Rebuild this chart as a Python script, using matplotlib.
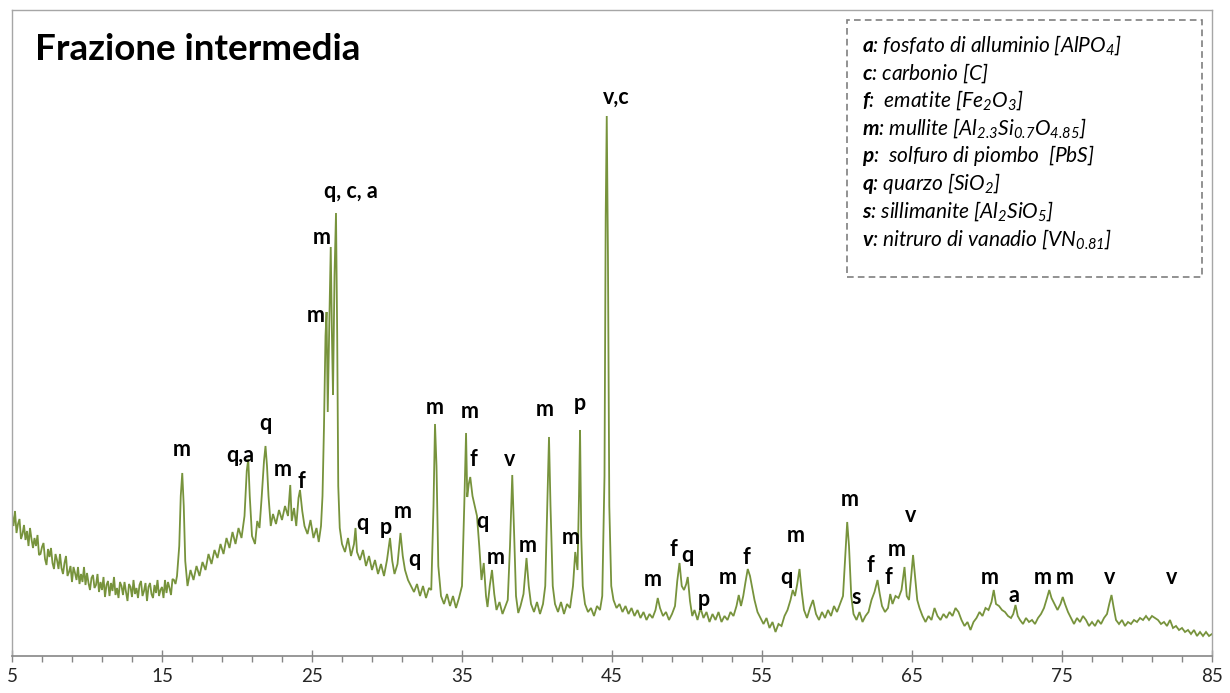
import matplotlib
matplotlib.use("Agg")
import matplotlib.pyplot as plt
from matplotlib.patches import Rectangle

plt.rcParams['font.family'] = ['Lato', 'DejaVu Sans']
plt.rcParams['mathtext.fontset'] = 'custom'
plt.rcParams['mathtext.rm'] = 'Lato:style=italic'
plt.rcParams['mathtext.it'] = 'Lato:style=italic'
plt.rcParams['mathtext.bf'] = 'Lato:style=italic:weight=bold'
plt.rcParams['mathtext.default'] = 'it'

# ---- data: diffraction pattern (2-theta in degrees, intensity in arbitrary units)
two_theta = [
    5.0, 5.1, 5.2, 5.3, 5.4, 5.5, 5.6, 5.7, 5.8, 5.9,
    6.0, 6.1, 6.2, 6.3, 6.4, 6.5, 6.6, 6.7, 6.8, 6.9,
    7.0, 7.1, 7.2, 7.3, 7.4, 7.5, 7.6, 7.7, 7.8, 7.9,
    8.0, 8.1, 8.2, 8.3, 8.4, 8.5, 8.6, 8.7, 8.8, 8.9,
    9.0, 9.1, 9.2, 9.3, 9.4, 9.5, 9.6, 9.7, 9.8, 9.9,
    10.0, 10.1, 10.2, 10.3, 10.4, 10.5, 10.6, 10.7, 10.8, 10.9,
    11.0, 11.1, 11.2, 11.3, 11.4, 11.5, 11.6, 11.7, 11.8, 11.9,
    12.0, 12.1, 12.2, 12.3, 12.4, 12.5, 12.6, 12.7, 12.8, 12.9,
    13.0, 13.1, 13.2, 13.3, 13.4, 13.5, 13.6, 13.7, 13.8, 13.9,
    14.0, 14.1, 14.2, 14.3, 14.4, 14.5, 14.6, 14.7, 14.8, 14.9,
    15.0, 15.1, 15.2, 15.3, 15.4, 15.5, 15.6, 15.7, 15.8, 15.9,
    16.0, 16.15, 16.25, 16.35, 16.45, 16.55, 16.7, 16.9, 17.1, 17.3, 17.5, 17.7, 17.9, 18.1, 18.3, 18.5,
    18.7, 18.9, 19.1, 19.3, 19.5, 19.7, 19.9, 20.1, 20.3, 20.5, 20.65, 20.75, 20.85, 21.0, 21.2, 21.35,
    21.5, 21.65, 21.8, 21.9, 22.0, 22.1, 22.25, 22.4, 22.6, 22.8, 23.0, 23.2, 23.4, 23.55, 23.65, 23.8,
    23.95, 24.1, 24.2, 24.35, 24.5, 24.7, 24.9, 25.1, 25.3, 25.45, 25.6, 25.7, 25.8, 25.9, 25.97, 26.05,
    26.15, 26.25, 26.33, 26.4, 26.5, 26.6, 26.68, 26.75, 26.85, 27.0, 27.2, 27.4, 27.6, 27.8, 27.9, 28.0,
    28.2, 28.4, 28.6, 28.8, 29.0, 29.2, 29.4, 29.6, 29.8, 30.0, 30.2, 30.35, 30.5, 30.7, 30.9, 31.05,
    31.2, 31.4, 31.6, 31.8, 32.0, 32.2, 32.4, 32.6, 32.8, 32.95, 33.1, 33.2, 33.3, 33.42, 33.6, 33.8,
    34.0, 34.2, 34.4, 34.6, 34.8, 35.0, 35.15, 35.27, 35.35, 35.45, 35.55, 35.7, 35.85, 36.0, 36.15,
    36.3, 36.45, 36.6, 36.7, 36.85, 37.0, 37.15, 37.3, 37.5, 37.7, 37.9, 38.05, 38.2, 38.35, 38.48,
    38.6, 38.75, 38.9, 39.1, 39.3, 39.45, 39.6, 39.8, 40.0, 40.2, 40.4, 40.55, 40.7, 40.8, 40.9, 41.05,
    41.2, 41.4, 41.6, 41.8, 42.0, 42.2, 42.4, 42.55, 42.7, 42.8, 42.87, 42.95, 43.05, 43.2, 43.4, 43.6,
    43.8, 44.0, 44.2, 44.35, 44.5, 44.58, 44.65, 44.73, 44.82, 44.95, 45.1, 45.3, 45.5, 45.7, 45.9,
    46.1, 46.3, 46.5, 46.7, 46.9, 47.1, 47.3, 47.5, 47.7, 47.9, 48.05, 48.2, 48.4, 48.6, 48.8, 49.0,
    49.2, 49.35, 49.5, 49.65, 49.8, 49.95, 50.05, 50.2, 50.35, 50.5, 50.7, 50.9, 51.1, 51.3, 51.5, 51.7,
    51.9, 52.1, 52.3, 52.5, 52.7, 52.9, 53.1, 53.3, 53.45, 53.6, 53.75, 53.9, 54.05, 54.2, 54.35, 54.5,
    54.7, 54.9, 55.1, 55.3, 55.5, 55.7, 55.9, 56.1, 56.3, 56.5, 56.7, 56.9, 57.05, 57.2, 57.35, 57.5,
    57.65, 57.8, 58.0, 58.2, 58.4, 58.6, 58.8, 59.0, 59.2, 59.4, 59.6, 59.8, 60.0, 60.2, 60.4, 60.55,
    60.68, 60.8, 60.95, 61.1, 61.3, 61.5, 61.7, 61.9, 62.1, 62.3, 62.5, 62.7, 62.85, 63.0, 63.2, 63.4,
    63.55, 63.7, 63.9, 64.1, 64.3, 64.5, 64.65, 64.8, 64.95, 65.07, 65.2, 65.35, 65.5, 65.7, 65.9, 66.1,
    66.3, 66.5, 66.7, 66.9, 67.1, 67.3, 67.5, 67.7, 67.9, 68.1, 68.3, 68.5, 68.7, 68.9, 69.1, 69.3, 69.5,
    69.7, 69.9, 70.1, 70.3, 70.45, 70.6, 70.8, 71.0, 71.2, 71.4, 71.6, 71.75, 71.9, 72.05, 72.2, 72.4,
    72.6, 72.8, 73.0, 73.2, 73.4, 73.6, 73.8, 74.0, 74.15, 74.3, 74.5, 74.7, 74.9, 75.05, 75.2, 75.4,
    75.6, 75.8, 76.0, 76.2, 76.4, 76.6, 76.8, 77.0, 77.2, 77.4, 77.6, 77.8, 78.0, 78.15, 78.3, 78.45,
    78.6, 78.8, 79.0, 79.2, 79.4, 79.6, 79.8, 80.0, 80.2, 80.4, 80.6, 80.8, 81.0, 81.2, 81.4, 81.6, 81.8,
    82.0, 82.2, 82.4, 82.6, 82.8, 83.0, 83.2, 83.4, 83.6, 83.8, 84.0, 84.2, 84.4, 84.6, 84.8, 85.0,
]
intensity = [
    142, 130, 145, 123, 132, 137, 117, 122, 131, 116,
    125, 110, 128, 117, 108, 118, 110, 121, 101, 102,
    109, 113, 97, 91, 107, 99, 108, 93, 87, 102,
    96, 87, 102, 88, 82, 93, 100, 80, 84, 90,
    74, 89, 83, 76, 89, 72, 82, 74, 89, 71,
    83, 73, 66, 78, 81, 68, 71, 82, 64, 74,
    66, 79, 59, 71, 75, 60, 73, 65, 79, 61,
    68, 58, 74, 70, 61, 74, 64, 55, 72, 69,
    59, 76, 62, 68, 58, 71, 75, 60, 65, 73,
    55, 69, 73, 62, 58, 71, 63, 76, 60, 66,
    69, 58, 76, 63, 74, 68, 61, 77, 76, 72,
    80, 110, 160, 183, 150, 95, 70, 86, 76, 90, 80, 94, 86, 102, 92, 106,
    98, 112, 102, 118, 108, 124, 112, 128, 118, 140, 185, 197, 160, 120, 112, 135,
    128, 160, 195, 210, 190, 160, 130, 142, 132, 146, 136, 150, 140, 171, 135, 148,
    130, 158, 166, 145, 130, 122, 136, 118, 128, 114, 130, 160, 230, 320, 344, 244,
    330, 409, 320, 261, 380, 443, 320, 170, 128, 112, 104, 118, 100, 112, 128, 104,
    96, 106, 90, 100, 86, 96, 82, 92, 80, 96, 118, 95, 82, 92, 123, 100,
    86, 76, 70, 64, 72, 60, 70, 58, 68, 66, 150, 232, 190, 90, 60, 52,
    62, 50, 60, 48, 58, 70, 150, 223, 159, 172, 179, 160, 150, 140, 110,
    76, 93, 60, 49, 70, 86, 62, 46, 54, 42, 50, 56, 110, 181, 120,
    60, 43, 50, 62, 98, 70, 52, 44, 54, 42, 52, 70, 160, 219, 150, 70,
    52, 44, 54, 42, 52, 48, 70, 104, 86, 160, 226, 120, 70, 52, 44, 48,
    40, 50, 46, 60, 180, 440, 540, 400, 150, 70, 56, 48, 52, 44, 50,
    42, 48, 40, 46, 38, 44, 36, 42, 38, 46, 58, 48, 40, 44, 36, 42,
    50, 75, 93, 70, 66, 72, 79, 55, 40, 46, 36, 48, 38, 44, 34, 42,
    36, 44, 34, 40, 36, 44, 40, 50, 61, 50, 60, 74, 87, 80, 68, 56,
    44, 38, 32, 38, 28, 34, 24, 32, 30, 40, 46, 56, 66, 60, 72, 87,
    64, 46, 38, 48, 56, 42, 36, 44, 38, 46, 40, 50, 44, 52, 60, 100,
    134, 110, 60, 42, 36, 44, 34, 40, 44, 56, 64, 76, 62, 50, 44, 48,
    62, 52, 60, 58, 66, 89, 60, 56, 80, 101, 80, 56, 48, 40, 34, 40,
    36, 48, 40, 36, 42, 38, 44, 40, 48, 44, 36, 30, 34, 26, 34, 38, 44,
    40, 48, 46, 54, 66, 52, 50, 46, 44, 40, 38, 42, 51, 40, 36, 32,
    38, 34, 36, 32, 38, 42, 48, 58, 66, 58, 52, 46, 52, 59, 52, 44,
    38, 32, 38, 34, 40, 36, 30, 34, 30, 36, 32, 38, 42, 52, 61, 48,
    36, 32, 36, 30, 34, 32, 36, 34, 38, 36, 40, 36, 40, 38, 36, 32, 34,
    30, 36, 28, 30, 26, 28, 24, 26, 22, 26, 20, 24, 20, 24, 20, 22,
]

# ---- peak annotations: phase letter, 2-theta, label height
peak_labels = ["m", "q,a", "q", "m", "f", "m", "m", "q, c, a", "q", "p", "m", "q",
               "m", "m", "f", "q", "m", "v", "m", "m", "m", "p", "v,c",
               "m", "f", "q", "p", "m", "f", "q", "m", "m", "s", "f", "f", "m", "v",
               "m", "a", "m", "m", "v", "v"]
label_theta = [16.33, 20.2, 21.9, 23.07, 24.3, 25.27, 25.67, 27.6, 28.33, 29.9, 31.05, 31.8,
               33.2, 35.55, 35.73, 36.33, 37.25, 38.2, 39.4, 40.53, 42.27, 42.87, 45.27,
               47.7, 49.1, 50.0, 51.13, 52.75, 53.93, 56.6, 57.27, 60.87, 61.27, 62.2, 63.4,
               64.0, 64.93, 70.2, 71.8, 73.73, 75.2, 78.2, 82.33]
label_height = [206, 201, 233, 187, 174, 341, 419, 464, 133, 128, 144, 97,
                248, 244, 196, 134, 99, 196, 111, 246, 119, 252, 559,
                77, 106, 100, 57, 79, 98, 79, 121, 156, 59, 90, 78,
                106, 141, 78, 61, 79, 78, 78, 78]

legend_keys = ["a", "c", "f", "m", "p", "q", "s", "v"]
legend_text = [": fosfato di alluminio [AlPO$_{4}$]",
               ": carbonio [C]",
               ":  ematite [Fe$_{2}$O$_{3}$]",
               ": mullite [Al$_{2.3}$Si$_{0.7}$O$_{4.85}$]",
               ":  solfuro di piombo  [PbS]",
               ": quarzo [SiO$_{2}$]",
               ": sillimanite [Al$_{2}$SiO$_{5}$]",
               ": nitruro di vanadio [VN$_{0.81}$]"]

title = "Frazione intermedia"
x_ticks = [5, 15, 25, 35, 45, 55, 65, 75, 85]

# ---- figure
W, H = 1230, 693
fig = plt.figure(figsize=(W / 100, H / 100), dpi=100)
ax = fig.add_axes([12 / W, 1 - 656 / H, 1200 / W, 646 / H])
ax.plot(two_theta, intensity, color="#77933C", lw=1.3, solid_joinstyle="miter")
ax.set_xlim(5, 85)
ax.set_ylim(0, 646)

for sp in ["left", "top", "right"]:
    ax.spines[sp].set_color("#A6A6A6")
    ax.spines[sp].set_linewidth(1.0)
ax.spines["bottom"].set_color("#868686")
ax.spines["bottom"].set_linewidth(1.2)
ax.set_yticks([])
ax.set_xticks(x_ticks)
ax.set_xticks(list(range(5, 86, 2)), minor=True)
ax.tick_params(axis="x", which="major", direction="inout", length=9, width=1,
               color="#868686", labelsize=13.5, labelcolor="#262626", pad=4)
ax.tick_params(axis="x", which="minor", direction="out", length=4.5, width=1,
               color="#868686")

for lab, xt, yh in zip(peak_labels, label_theta, label_height):
    ax.text(xt, yh, lab, ha="center", va="center", fontsize=15.5,
            fontweight="bold", color="black")

fig.text(35 / W, 1 - 50 / H, title, ha="left", va="center", fontsize=26.5,
         fontweight="bold", color="black")

# legend box
box = Rectangle((847 / W, 1 - 277 / H), (1202 - 847) / W, (277 - 20) / H,
                transform=fig.transFigure, facecolor="white", edgecolor="#7F7F7F",
                linewidth=1.2, linestyle=(0, (4, 2.5)), zorder=5)
fig.patches.append(box)
for i, (k, t) in enumerate(zip(legend_keys, legend_text)):
    y = 45 + i * 27.7
    fig.text(862 / W, 1 - y / H, r"$\mathbf{" + k + "}$" + t, ha="left", va="center",
             fontsize=15, fontstyle="italic", color="black", zorder=6)

fig.savefig("out.png", dpi=100)
